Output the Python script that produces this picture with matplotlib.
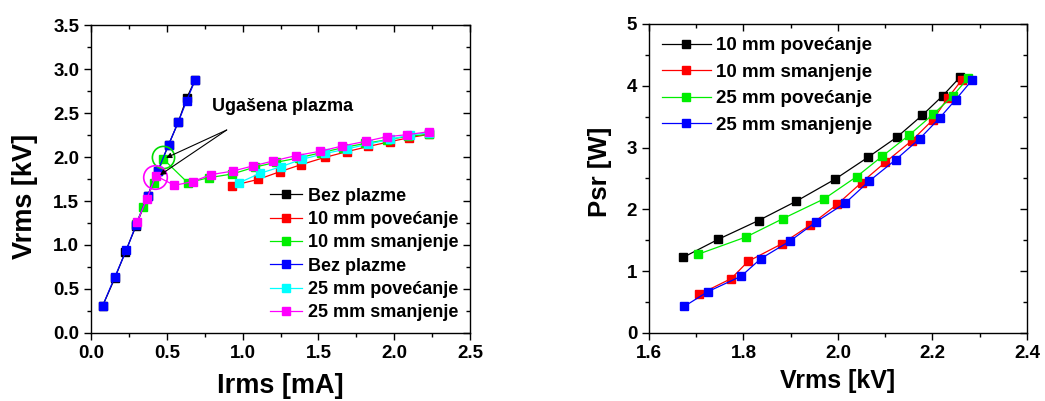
import matplotlib
matplotlib.use("Agg")
import matplotlib.pyplot as plt
from matplotlib.ticker import MultipleLocator

plt.rcParams["font.family"] = ["Liberation Sans", "DejaVu Sans"]
plt.rcParams["font.weight"] = "bold"

# ---- left panel: Vrms vs Irms ----
bez1_x = [0.077, 0.156, 0.226, 0.297, 0.374, 0.44, 0.512, 0.576, 0.631, 0.688]
bez1_y = [0.31, 0.62, 0.92, 1.216, 1.56, 1.84, 2.14, 2.40, 2.67, 2.88]
r10p_x = [0.932, 1.103, 1.246, 1.385, 1.543, 1.686, 1.829, 1.971, 2.099, 2.231]
r10p_y = [1.674, 1.746, 1.833, 1.913, 1.996, 2.06, 2.12, 2.174, 2.22, 2.258]
g10s_x = [2.231, 2.09, 1.95, 1.81, 1.66, 1.52, 1.37, 1.22, 1.08, 0.932, 0.778, 0.638,
          0.477, 0.413, 0.345, 0.297]
g10s_y = [2.258, 2.235, 2.195, 2.155, 2.105, 2.05, 1.99, 1.94, 1.885, 1.807, 1.765, 1.708,
          1.977, 1.708, 1.435, 1.24]
bez2_x = [0.077, 0.156, 0.233, 0.297, 0.374, 0.44, 0.512, 0.576, 0.631, 0.688]
bez2_y = [0.31, 0.633, 0.94, 1.23, 1.56, 1.84, 2.14, 2.40, 2.64, 2.88]
c25p_x = [0.978, 1.114, 1.253, 1.389, 1.543, 1.686, 1.829, 1.971, 2.103, 2.231]
c25p_y = [1.708, 1.814, 1.89, 1.973, 2.04, 2.09, 2.148, 2.20, 2.25, 2.277]
m25s_x = [2.231, 2.086, 1.949, 1.811, 1.657, 1.508, 1.349, 1.202, 1.067, 0.935, 0.792,
          0.671, 0.55, 0.427, 0.367, 0.303]
m25s_y = [2.288, 2.254, 2.23, 2.178, 2.125, 2.064, 2.015, 1.955, 1.898, 1.84, 1.80,
          1.72, 1.678, 1.787, 1.52, 1.258]

left_labels = ["Bez plazme", "10 mm povećanje", "10 mm smanjenje",
               "Bez plazme", "25 mm povećanje", "25 mm smanjenje"]
left_colors = ["#000000", "#ff0000", "#00ee00", "#0000ff", "#00ffff", "#ff00ff"]
left_xticks = [0.0, 0.5, 1.0, 1.5, 2.0, 2.5]
left_yticks = [0.0, 0.5, 1.0, 1.5, 2.0, 2.5, 3.0, 3.5]

# ---- right panel: Psr vs Vrms ----
p10p_x = [1.673, 1.747, 1.832, 1.912, 1.994, 2.063, 2.125, 2.178, 2.222, 2.258]
p10p_y = [1.226, 1.517, 1.82, 2.133, 2.489, 2.84, 3.17, 3.52, 3.84, 4.136]
p10s_x = [1.707, 1.774, 1.81, 1.881, 1.941, 1.999, 2.05, 2.10, 2.156, 2.201, 2.233, 2.262]
p10s_y = [0.626, 0.88, 1.16, 1.442, 1.744, 2.084, 2.435, 2.76, 3.11, 3.45, 3.807, 4.093]
p25p_x = [1.704, 1.806, 1.884, 1.971, 2.04, 2.093, 2.15, 2.202, 2.243, 2.276]
p25p_y = [1.274, 1.555, 1.852, 2.171, 2.532, 2.856, 3.197, 3.542, 3.834, 4.131]
p25s_x = [1.675, 1.725, 1.795, 1.837, 1.898, 1.953, 2.016, 2.066, 2.122, 2.173, 2.215,
          2.249, 2.284]
p25s_y = [0.432, 0.67, 0.918, 1.204, 1.485, 1.793, 2.106, 2.457, 2.802, 3.143, 3.477,
          3.774, 4.093]

right_labels = ["10 mm povećanje", "10 mm smanjenje", "25 mm povećanje", "25 mm smanjenje"]
right_colors = ["#000000", "#ff0000", "#00ee00", "#0000ff"]
right_xticks = [1.6, 1.8, 2.0, 2.2, 2.4]
right_yticks = [0, 1, 2, 3, 4, 5]


def style_axes(ax, xticks, yticks, xfmt, yfmt, xminor, yminor):
    ax.set_xticks(xticks, [xfmt % v for v in xticks], fontweight="bold", fontsize=13.5)
    ax.set_yticks(yticks, [yfmt % v for v in yticks], fontweight="bold", fontsize=13.5)
    ax.xaxis.set_minor_locator(MultipleLocator(xminor))
    ax.yaxis.set_minor_locator(MultipleLocator(yminor))
    ax.tick_params(which="both", direction="out", width=1.0, top=True, right=True)
    ax.tick_params(which="major", length=5)
    ax.tick_params(which="minor", length=3)
    for sp in ax.spines.values():
        sp.set_linewidth(1.0)
    # top/right ticks point inward, left/bottom outward
    for t in ax.xaxis.get_major_ticks() + ax.xaxis.get_minor_ticks():
        t.tick2line.set_marker(3)
    for t in ax.yaxis.get_major_ticks() + ax.yaxis.get_minor_ticks():
        t.tick2line.set_marker(0)


fig = plt.figure(figsize=(10.45, 4.01), dpi=100)
ax1 = fig.add_axes([0.0871, 0.1696, 0.3627, 0.768])
ax2 = fig.add_axes([0.621, 0.1696, 0.3617, 0.7706])

left_series = [(bez1_x, bez1_y), (r10p_x, r10p_y), (g10s_x, g10s_y),
               (bez2_x, bez2_y), (c25p_x, c25p_y), (m25s_x, m25s_y)]
for (xs, ys), lab, col in zip(left_series, left_labels, left_colors):
    ax1.plot(xs, ys, "-s", color=col, lw=0.9, ms=6, mec=col, label=lab)

# circles around the points where the plasma went out
ax1.plot([0.477], [2.003], "o", ms=16, mfc="none", mec="#00dd00", mew=1.2)
ax1.plot([0.422], [1.77], "o", ms=17, mfc="none", mec="#ff00ff", mew=1.2)
for tx, ty in [(0.495, 1.99), (0.455, 1.795)]:
    ax1.annotate("", xy=(tx, ty), xytext=(0.895, 2.307),
                 arrowprops=dict(arrowstyle="-|>", color="black", lw=0.8,
                                 mutation_scale=8, shrinkA=0, shrinkB=0))
ax1.text(0.8, 2.57, "Ugašena plazma", fontsize=13, fontweight="bold", va="center")

style_axes(ax1, left_xticks, left_yticks, "%.1f", "%.1f", 0.25, 0.25)
ax1.set_xlim(0, 2.5)
ax1.set_ylim(0, 3.5)
ax1.set_xlabel("Irms [mA]", fontsize=19.5, fontweight="bold", labelpad=8)
ax1.set_ylabel("Vrms [kV]", fontsize=19.5, fontweight="bold")
ax1.yaxis.set_label_coords(-0.14, 0.445)
ax1.legend(loc="lower right", bbox_to_anchor=(1.0, 0.0), frameon=False,
           handlelength=1.8, handletextpad=0.3, labelspacing=0.35, borderaxespad=0.25,
           prop={"weight": "bold", "size": 13})

right_series = [(p10p_x, p10p_y), (p10s_x, p10s_y), (p25p_x, p25p_y), (p25s_x, p25s_y)]
for (xs, ys), lab, col in zip(right_series, right_labels, right_colors):
    ax2.plot(xs, ys, "-s", color=col, lw=0.9, ms=6, mec=col, label=lab)

style_axes(ax2, right_xticks, right_yticks, "%.1f", "%d", 0.1, 0.5)
ax2.set_xlim(1.6, 2.4)
ax2.set_ylim(0, 5)
ax2.set_xlabel("Vrms [kV]", fontsize=18, fontweight="bold", labelpad=5)
ax2.set_ylabel("Psr [W]", fontsize=18.5, fontweight="bold")
ax2.yaxis.set_label_coords(-0.098, 0.52)
ax2.legend(loc="upper left", frameon=False, handlelength=2.6, handletextpad=0.3,
           labelspacing=0.5, borderaxespad=0.3, prop={"weight": "bold", "size": 13.5})

fig.savefig("out.png", dpi=100)
